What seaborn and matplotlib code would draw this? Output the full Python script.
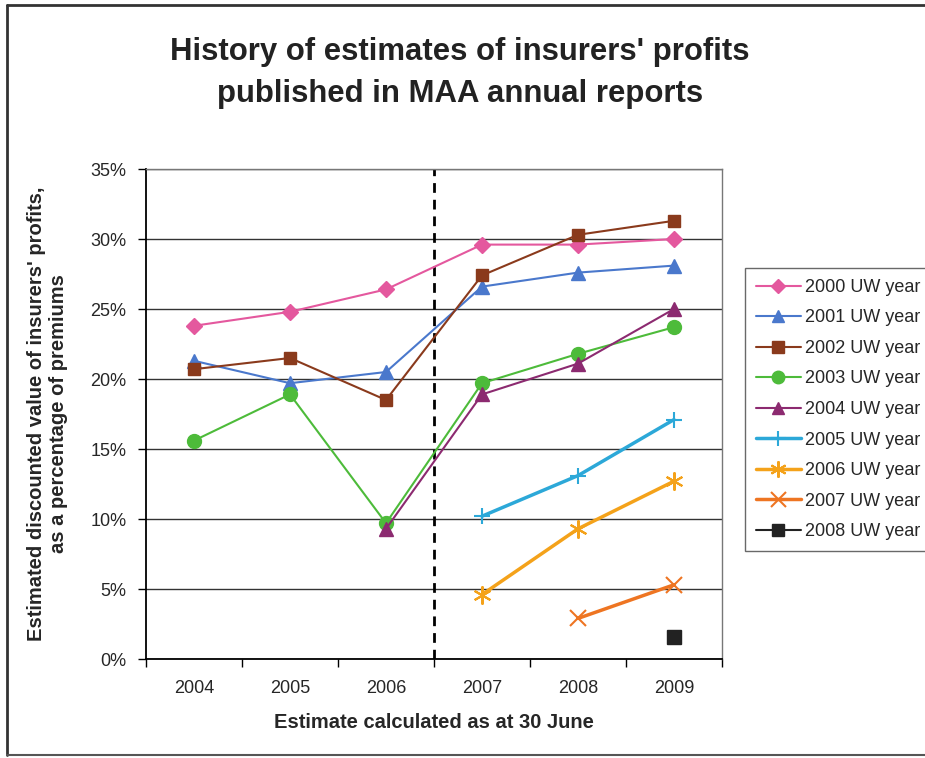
import numpy as np
import pandas as pd
import matplotlib
matplotlib.use("Agg")
import matplotlib.pyplot as plt
import seaborn as sns
from matplotlib.lines import Line2D
from matplotlib.ticker import FixedLocator, PercentFormatter

nan = np.nan
years = ["2004", "2005", "2006", "2007", "2008", "2009"]
s2000 = [23.8, 24.8, 26.4, 29.6, 29.6, 30.0]
s2001 = [21.3, 19.7, 20.5, 26.6, 27.6, 28.1]
s2002 = [20.7, 21.5, 18.5, 27.4, 30.3, 31.3]
s2003 = [15.6, 18.9, 9.7, 19.7, 21.8, 23.7]
s2004 = [nan, nan, 9.3, 18.9, 21.1, 25.0]
s2005 = [nan, nan, nan, 10.2, 13.1, 17.1]
s2006 = [nan, nan, nan, 4.6, 9.3, 12.7]
s2007 = [nan, nan, nan, nan, 2.9, 5.3]
s2008 = [nan, nan, nan, nan, nan, 1.6]
series_names = ["2000 UW year", "2001 UW year", "2002 UW year", "2003 UW year",
                "2004 UW year", "2005 UW year", "2006 UW year", "2007 UW year",
                "2008 UW year"]
series_values = [s2000, s2001, s2002, s2003, s2004, s2005, s2006, s2007, s2008]

colors = ["#E4589E", "#4A78CC", "#8A3A1C", "#4DBB3A", "#8C2A70",
          "#2CA8D8", "#F4A21A", "#EE7522", "#222222"]
markers = ["D", "^", "s", "o", "^", "+", (6, 2, 0), "x", "s"]
msizes = [8, 10, 9, 10, 10, 12, 13, 12, 10]
lwidths = [1.5, 1.5, 1.5, 1.5, 1.5, 2.5, 2.5, 2.5, 1.5]
mews = [1, 1, 1, 1, 1, 1.5, 1.5, 1.5, 1]

sns.set_theme(style="white")
plt.rcParams["font.family"] = ["Liberation Sans", "DejaVu Sans"]

fig = plt.figure(figsize=(9.25, 7.58), dpi=100)
ax = fig.add_axes([146 / 925, 1 - 659 / 758, 576 / 925, 490 / 758])

xpos = np.arange(len(years))
handles = []
for name, vals, c, m, ms, lw, mew in zip(series_names, series_values, colors,
                                          markers, msizes, lwidths, mews):
    df = pd.DataFrame({"x": xpos, "y": vals}).dropna()
    sns.lineplot(data=df, x="x", y="y", ax=ax, color=c, marker=m,
                 markersize=ms, linewidth=lw, markeredgecolor=c,
                 markeredgewidth=mew, zorder=3)
    handles.append(Line2D([], [], color=c, marker=m, markersize=ms * 0.9,
                          linewidth=lw, markeredgecolor=c, markeredgewidth=mew,
                          label=name))

ax.axvline(2.5, color="black", linewidth=2, linestyle=(0, (3.5, 2.5)), zorder=2)

ax.set_xlim(-0.5, 5.5)
ax.set_ylim(0, 35)
ax.set_xticks(xpos)
ax.set_xticklabels(years, fontsize=13)
ax.xaxis.set_minor_locator(FixedLocator(np.arange(-0.5, 6, 1)))
ax.tick_params(axis="x", which="major", length=0, pad=15)
ax.tick_params(axis="x", which="minor", length=6, width=1, color="black",
               direction="out", bottom=True)
ax.set_yticks(np.arange(0, 36, 5))
ax.yaxis.set_major_formatter(PercentFormatter(decimals=0))
ax.tick_params(axis="y", length=6, width=1, color="black", direction="out",
               left=True, labelsize=13, pad=8)
ax.grid(axis="y", color="#333333", linewidth=1)
ax.set_axisbelow(True)

for side in ["left", "bottom"]:
    ax.spines[side].set_color("black")
    ax.spines[side].set_linewidth(1.3)
for side in ["top", "right"]:
    ax.spines[side].set_color("#777777")
    ax.spines[side].set_linewidth(1)

ax.set_xlabel("Estimate calculated as at 30 June", fontsize=14.5,
              fontweight="bold", labelpad=12)
ax.set_ylabel("Estimated discounted value of insurers' profits,\nas a percentage of premiums",
              fontsize=14.5, fontweight="bold", labelpad=16)

fig.text(0.497, 1 - 73 / 758,
         "History of estimates of insurers' profits\npublished in MAA annual reports",
         ha="center", va="center", fontsize=22.4, fontweight="bold",
         linespacing=1.55, color="#222222")

leg = fig.legend(handles=handles, loc="upper left",
                 bbox_to_anchor=(745 / 925, 1 - 268 / 758), fontsize=13,
                 frameon=True, fancybox=False, edgecolor="#444444",
                 handlelength=2.5, handletextpad=0.25, labelspacing=0.75,
                 borderpad=0.6, borderaxespad=0)
leg.get_frame().set_linewidth(1)

# outer chart border
fig.add_artist(Line2D([7 / 925, 7 / 925], [1 - 5 / 758, 1 - 755 / 758],
                      transform=fig.transFigure, color="#333333", linewidth=2))
fig.add_artist(Line2D([7 / 925, 1.0], [1 - 5 / 758, 1 - 5 / 758],
                      transform=fig.transFigure, color="#333333", linewidth=2))
fig.add_artist(Line2D([7 / 925, 1.0], [1 - 755 / 758, 1 - 755 / 758],
                      transform=fig.transFigure, color="#555555", linewidth=1.5))

fig.savefig("out.png", dpi=100, facecolor="white")
